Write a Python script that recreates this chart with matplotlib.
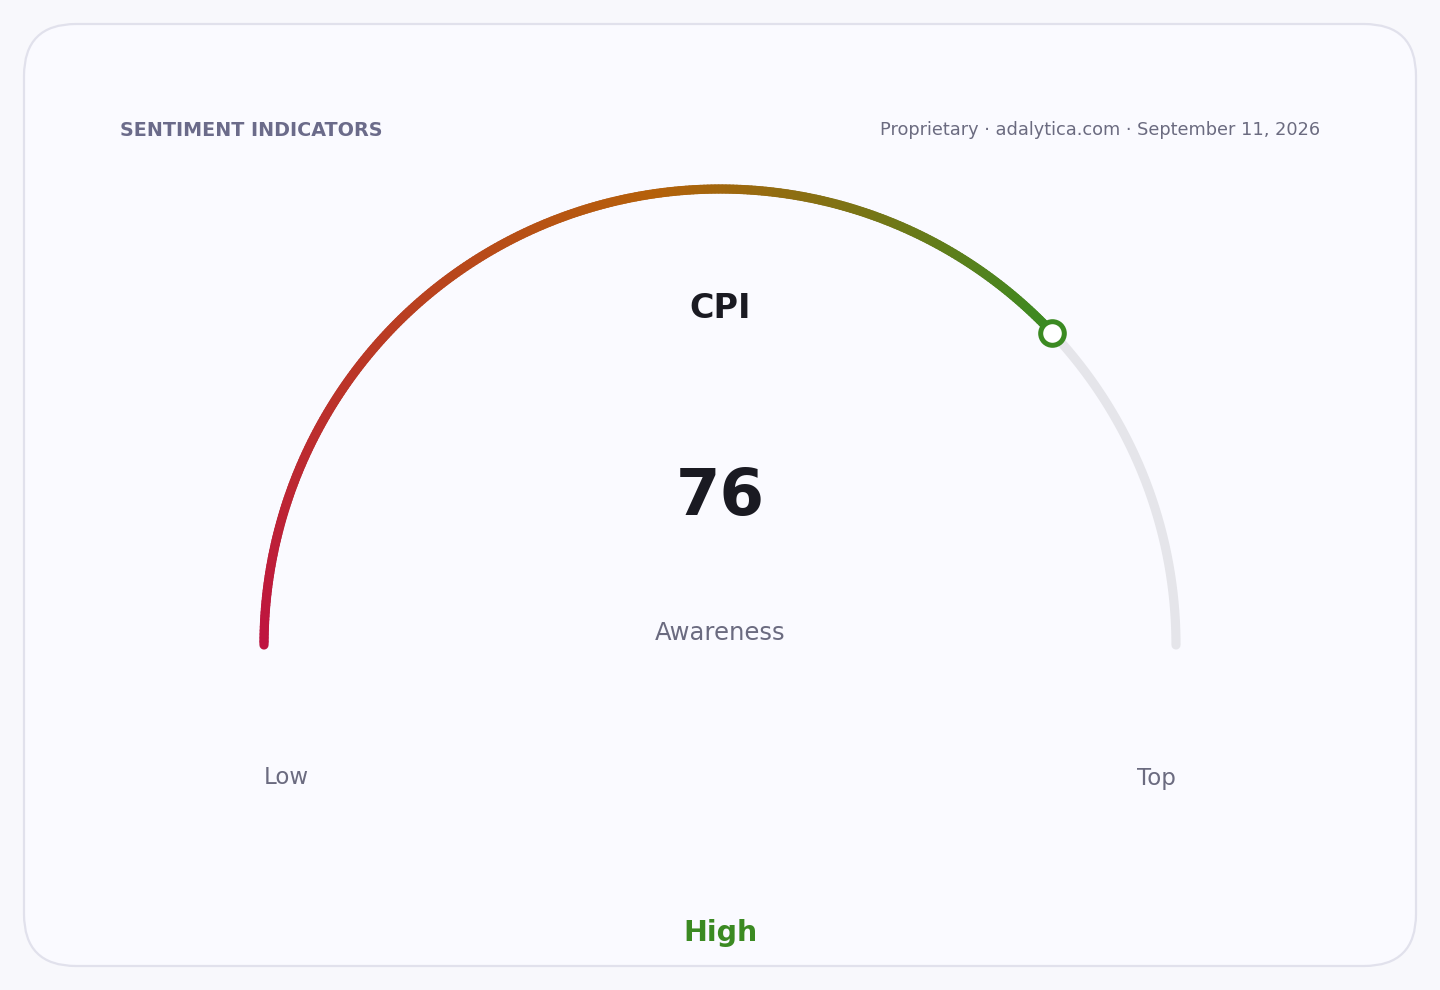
import numpy as np
import matplotlib
matplotlib.use("Agg")
import matplotlib.pyplot as plt
from matplotlib.collections import LineCollection
from matplotlib.colors import LinearSegmentedColormap
from matplotlib.patches import FancyBboxPatch

# Data
title = "SENTIMENT INDICATORS"
source = "Proprietary \u00b7 adalytica.com \u00b7 September 11, 2026"
metric = "CPI"
value = 76
scale_min, scale_max = 0, 100
subtitle = "Awareness"
end_labels = ["Low", "Top"]
band_label = "High"

# Colours
bg = "#f8f8fc"
card_face = "#fafaff"
card_edge = "#e1e1ec"
track_col = "#e5e5ea"
green = "#3b8a22"
grad = LinearSegmentedColormap.from_list(
    "g", [(0.0, "#bf1440"), (0.6, "#b5600a"), (1.0, "#3b8a22")])

fig = plt.figure(figsize=(14.4, 9.9), dpi=100, facecolor=bg)
ax = fig.add_axes([0, 0, 1, 1])
ax.set_xlim(0, 1440)
ax.set_ylim(990, 0)
ax.set_aspect("equal")
ax.axis("off")

# card
card = FancyBboxPatch((24, 24), 1392, 942,
                      boxstyle="round,pad=0,rounding_size=52",
                      fc=card_face, ec=card_edge, lw=1.6)
ax.add_patch(card)

# gauge geometry
cx, cy, r = 720, 645, 456
lw = 6.6

def ang(v):
    return np.pi * (1 - (v - scale_min) / (scale_max - scale_min))

# background track
t = np.linspace(ang(scale_min), ang(scale_max), 300)
ax.plot(cx + r * np.cos(t), cy - r * np.sin(t), color=track_col, lw=lw,
        solid_capstyle="round", zorder=2)

# gradient arc up to value
n = 300
vals = np.linspace(scale_min, value, n + 1)
a = ang(vals)
xs = cx + r * np.cos(a)
ys = cy - r * np.sin(a)
pts = np.column_stack([xs, ys]).reshape(-1, 1, 2)
segs = np.concatenate([pts[:-1], pts[1:]], axis=1)
cols = grad(np.linspace(0, 1, n))
lc = LineCollection(segs, colors=cols, linewidths=lw, capstyle="round", zorder=3)
ax.add_collection(lc)

# marker at value
ax.plot(xs[-1], ys[-1], "o", ms=17, mfc="white", mec=green, mew=3.6, zorder=5)

# texts
ax.text(120, 130, title, fontsize=13.75, fontweight="bold", color="#6b6b8a",
        ha="left", va="center")
ax.text(1320, 130, source, fontsize=12.8, color="#6b6b80", ha="right", va="center")
ax.text(720, 308, metric, fontsize=24, fontweight="bold", color="#1a1a22",
        ha="center", va="center")
ax.text(720, 497, str(value), fontsize=46, fontweight="bold", color="#1a1a22",
        ha="center", va="center")
ax.text(720, 633, subtitle, fontsize=17.5, color="#6b6b80", ha="center", va="center")
ax.text(264, 778, end_labels[0], fontsize=16.5, color="#6b6b80", ha="left", va="center")
ax.text(1176, 778, end_labels[1], fontsize=16.5, color="#6b6b80", ha="right", va="center")
ax.text(720, 933, band_label, fontsize=20.5, fontweight="bold", color=green,
        ha="center", va="center")

fig.savefig("out.png", dpi=100, facecolor=bg)
